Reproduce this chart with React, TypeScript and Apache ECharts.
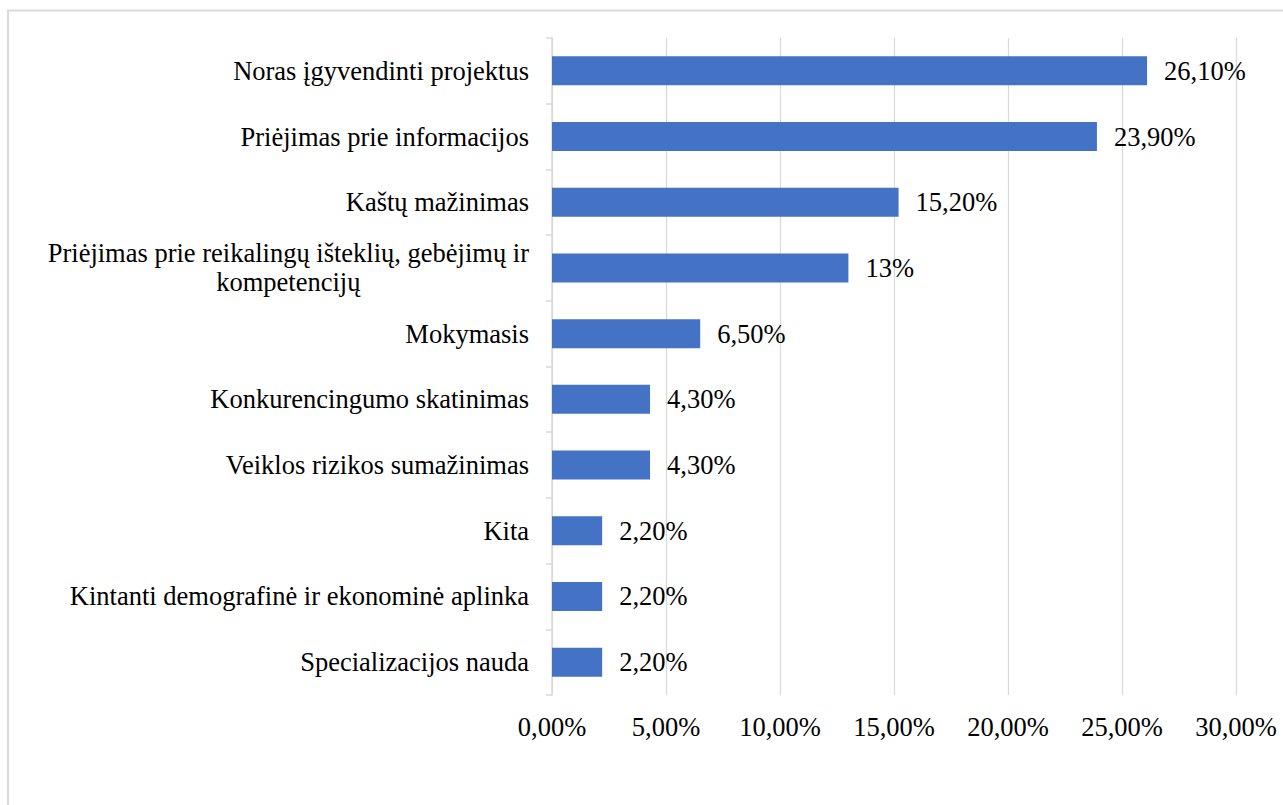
import React, { useEffect, useRef } from "react";
import * as echarts from "echarts";

const categories = [
  "Noras įgyvendinti projektus",
  "Priėjimas prie informacijos",
  "Kaštų mažinimas",
  "Priėjimas prie reikalingų išteklių, gebėjimų ir\nkompetencijų",
  "Mokymasis",
  "Konkurencingumo skatinimas",
  "Veiklos rizikos sumažinimas",
  "Kita",
  "Kintanti demografinė ir ekonominė aplinka",
  "Specializacijos nauda",
];
const values = [26.1, 23.9, 15.2, 13, 6.5, 4.3, 4.3, 2.2, 2.2, 2.2];
const valueLabels = ["26,10%", "23,90%", "15,20%", "13%", "6,50%", "4,30%", "4,30%", "2,20%", "2,20%", "2,20%"];
const tickLabels = ["0,00%", "5,00%", "10,00%", "15,00%", "20,00%", "25,00%", "30,00%"];

const FONT = "'Liberation Serif', 'Times New Roman', serif";
const FS = 26.5;

export default function App() {
  const ref = useRef<HTMLDivElement>(null);
  useEffect(() => {
    if (!ref.current) return;
    const chart = echarts.init(ref.current, undefined, { renderer: "svg" });
    chart.setOption({
      animation: false,
      backgroundColor: "#ffffff",
      textStyle: { fontFamily: FONT },
      graphic: [
        {
          type: "rect",
          shape: { x: 8, y: 10.5, width: 1400, height: 900 },
          style: { fill: "none", stroke: "#d9d9d9", lineWidth: 2 },
          silent: true,
        },
      ],
      grid: { left: 552, right: 47, top: 38, bottom: 110, containLabel: false },
      xAxis: {
        type: "value",
        min: 0,
        max: 30,
        interval: 5,
        axisLine: { show: false },
        axisTick: { show: false },
        splitLine: { show: true, lineStyle: { color: "#d9d9d9", width: 1.2 } },
        axisLabel: {
          margin: 18,
          fontSize: FS,
          color: "#000",
          fontFamily: FONT,
          formatter: (v: number) => tickLabels[Math.round(v / 5)],
        },
      },
      yAxis: {
        type: "category",
        inverse: true,
        data: categories,
        axisLine: { show: true, lineStyle: { color: "#d9d9d9", width: 1.5 } },
        axisTick: { show: true, length: 6, lineStyle: { color: "#d9d9d9", width: 1.5 } },
        splitLine: { show: false },
        axisLabel: {
          margin: 23,
          fontSize: FS,
          color: "#000",
          fontFamily: FONT,
          lineHeight: 29,
          formatter: (v: string) => v.split("\n").map((s) => `{c|${s}}`).join("\n"),
          rich: {
            c: { align: "center", fontSize: FS, fontFamily: FONT, color: "#000", lineHeight: 29 },
          },
        },
      },
      series: [
        {
          type: "bar",
          data: values,
          barWidth: 29,
          itemStyle: { color: "#4472C4" },
          label: {
            show: true,
            position: "right",
            distance: 17,
            fontSize: FS,
            color: "#000",
            fontFamily: FONT,
            formatter: (p: any) => valueLabels[p.dataIndex],
          },
        },
      ],
    });
    return () => chart.dispose();
  }, []);
  return (
    <div
      ref={ref}
      style={{ position: "absolute", left: 0, top: 0, width: 1283, height: 805 }}
    />
  );
}
